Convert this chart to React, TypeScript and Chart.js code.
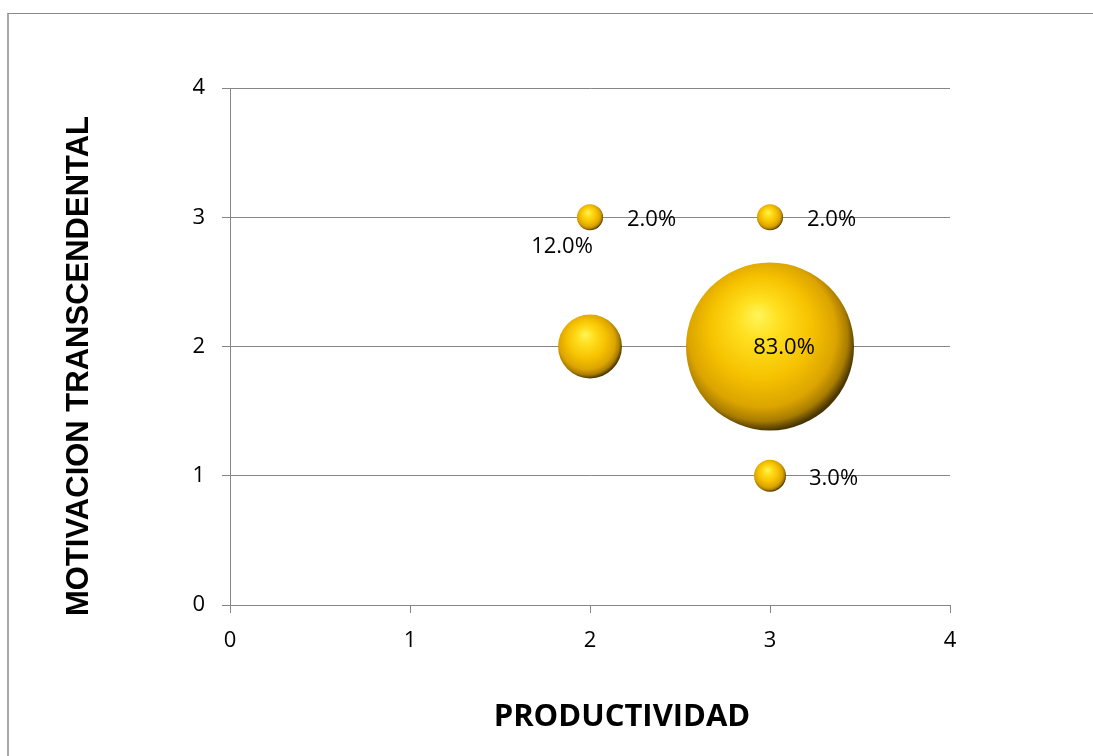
import React, { useEffect, useRef } from "react";
import { Chart, registerables } from "chart.js";

Chart.register(...registerables);

// ---- data ----
const xValues = [2, 3, 2, 3, 3];
const yValues = [3, 3, 2, 2, 1];
const percentValues = [2.0, 2.0, 12.0, 83.0, 3.0];
const pointLabels = ["2.0%", "2.0%", "12.0%", "83.0%", "3.0%"];
const xTickValues = [0, 1, 2, 3, 4];
const yTickValues = [0, 1, 2, 3, 4];
const xTitle = "PRODUCTIVIDAD";
const yTitle = "MOTIVACION TRANSCENDENTAL";

// ---- layout / style ----
const MAX_RADIUS = 84; // px radius of the biggest bubble (area-proportional sizing)
const labelPlacement = [
  { dx: 37, dy: 2, align: "left" },
  { dx: 37, dy: 2, align: "left" },
  { dx: -28, dy: -100, align: "center" },
  { dx: 14, dy: 1, align: "center" },
  { dx: 39, dy: 3, align: "left" },
];
const GRID = "#868686";
const TICK_FONT = { family: "'Open Sans'", size: 22 };

const maxPct = Math.max(...percentValues);
const bubbleData = xValues.map((x, i) => ({
  x,
  y: yValues[i],
  r: MAX_RADIUS * Math.sqrt(percentValues[i] / maxPct),
}));

const sphereFill = (c: any) => {
  if (c.type !== "data") return "#F2C200";
  const chart = c.chart;
  const xs = chart.scales.x;
  const ys = chart.scales.y;
  if (!xs || !ys || !c.raw) return "#F2C200";
  const cx = xs.getPixelForValue(c.raw.x);
  const cy = ys.getPixelForValue(c.raw.y);
  const r = c.raw.r;
  if (!isFinite(cx) || !isFinite(cy)) return "#F2C200";
  const g = chart.ctx.createRadialGradient(
    cx - 0.15 * r, cy - 0.38 * r, 0,
    cx - 0.08 * r, cy - 0.1 * r, 1.1 * r
  );
  g.addColorStop(0, "#FFF55A");
  g.addColorStop(0.22, "#FFE020");
  g.addColorStop(0.55, "#F6C200");
  g.addColorStop(0.8, "#DCA400");
  g.addColorStop(0.92, "#A87C00");
  g.addColorStop(1, "#4A3600");
  return g;
};

const textPlugin = {
  id: "textPlugin",
  afterDatasetsDraw(chart: any) {
    const ctx = chart.ctx;
    const meta = chart.getDatasetMeta(0);
    ctx.save();
    ctx.fillStyle = "#000";
    ctx.font = "22px 'Open Sans'";
    ctx.textBaseline = "middle";
    meta.data.forEach((el: any, i: number) => {
      const p = labelPlacement[i];
      ctx.textAlign = p.align;
      ctx.fillText(pointLabels[i], el.x + p.dx, el.y + p.dy);
    });
    // axis titles
    ctx.font = "bold 31px 'Open Sans'";
    ctx.textAlign = "center";
    ctx.fillText(xTitle, 622, 717);
    ctx.translate(79, 366);
    ctx.rotate(-Math.PI / 2);
    ctx.font = "bold 31px 'Liberation Sans'";
    ctx.fillText(yTitle, 0, 0);
    ctx.restore();
  },
};

export default function App() {
  const ref = useRef<HTMLCanvasElement | null>(null);
  useEffect(() => {
    if (!ref.current) return;
    const chart = new Chart(ref.current, {
      type: "bubble",
      data: {
        datasets: [
          {
            data: bubbleData,
            backgroundColor: sphereFill,
            hoverBackgroundColor: sphereFill,
            borderWidth: 0,
            hoverBorderWidth: 0,
          } as any,
        ],
      },
      options: {
        animation: false,
        responsive: false,
        events: [],
        layout: { padding: { top: 88, right: 143, left: 0, bottom: 0 } },
        plugins: { legend: { display: false }, tooltip: { enabled: false } },
        scales: {
          x: {
            type: "linear",
            min: 0,
            max: 4,
            afterBuildTicks: (s: any) => {
              s.ticks = xTickValues.map((v) => ({ value: v }));
            },
            afterFit: (s: any) => {
              s.height = 151;
            },
            ticks: { color: "#000", font: TICK_FONT, padding: 15, maxRotation: 0 },
            grid: { drawOnChartArea: false, drawTicks: true, tickLength: 8, color: GRID },
            border: { display: true, color: GRID },
          },
          y: {
            type: "linear",
            min: 0,
            max: 4,
            afterBuildTicks: (s: any) => {
              s.ticks = yTickValues.map((v) => ({ value: v }));
            },
            afterFit: (s: any) => {
              s.width = 230;
            },
            ticks: { color: "#000", font: TICK_FONT, padding: 17 },
            grid: { drawOnChartArea: true, drawTicks: true, tickLength: 8, color: GRID },
            border: { display: true, color: GRID },
          },
        },
      },
      plugins: [textPlugin],
    } as any);
    return () => chart.destroy();
  }, []);

  return (
    <div style={{ position: "fixed", left: 0, top: 0, width: 1093, height: 756, background: "#fff" }}>
      <div
        style={{
          position: "absolute",
          left: 7,
          top: 13,
          width: 1200,
          height: 900,
          borderTop: "1px solid #8a8a8a",
          borderLeft: "2px solid #a8a8a8",
        }}
      />
      <canvas
        ref={ref}
        width={1093}
        height={756}
        style={{ position: "absolute", left: 0, top: 0, width: 1093, height: 756 }}
      />
    </div>
  );
}
